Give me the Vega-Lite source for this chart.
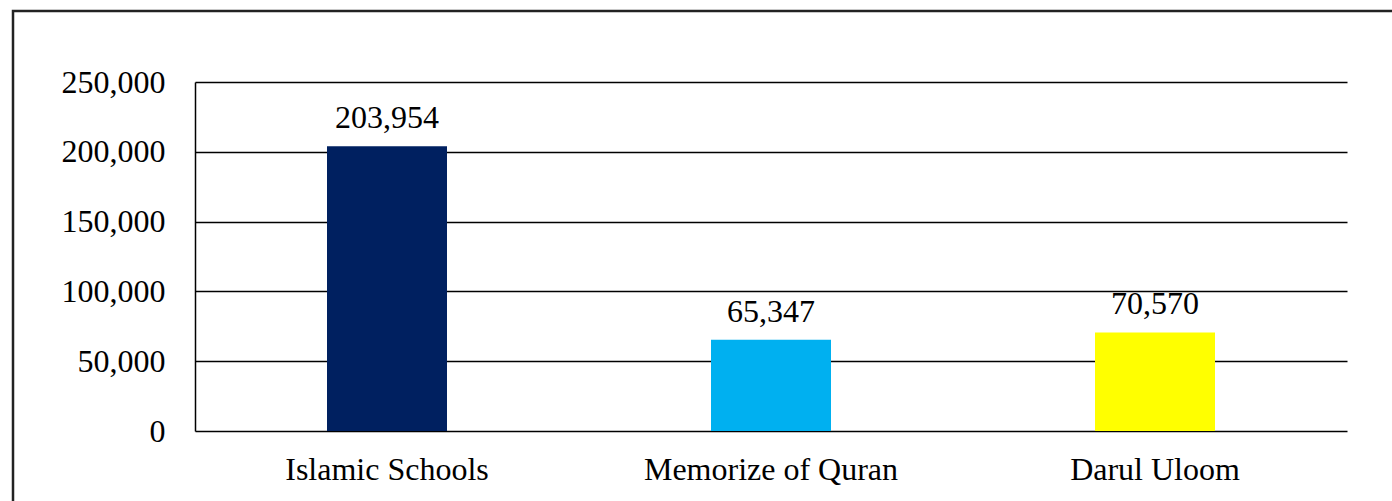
{
  "$schema": "https://vega.github.io/schema/vega-lite/v6.json",
  "width": 1400,
  "height": 500,
  "autosize": {"type": "none"},
  "padding": {"left": 13, "top": 11, "right": 0, "bottom": 0},
  "background": "white",
  "config": {
    "view": {"stroke": "#222222", "strokeWidth": 2.5},
    "font": "Liberation Serif, Times New Roman, serif",
    "axis": {"labelFont": "Liberation Serif, Times New Roman, serif", "labelFontSize": 32, "labelColor": "black", "labelLimit": 0}
  },
  "data": {
    "values": [
      {"Category": "Islamic Schools", "Value": 203954},
      {"Category": "Memorize of Quran", "Value": 65347},
      {"Category": "Darul Uloom", "Value": 70570}
    ]
  },
  "encoding": {
    "x": {
      "field": "Category",
      "type": "nominal",
      "sort": null,
      "scale": {"range": [182, 1334], "paddingInner": 0.6875, "paddingOuter": 0.34375},
      "axis": {
        "orient": "bottom",
        "offset": -80,
        "title": null,
        "domain": false,
        "ticks": false,
        "grid": false,
        "labelAngle": 0,
        "labelBaseline": "alphabetic",
        "labelPadding": 48,
        "labelLimit": 0
      }
    },
    "y": {
      "field": "Value",
      "type": "quantitative",
      "scale": {"domain": [0, 250000], "range": [420, 71], "nice": false, "zero": true},
      "axis": {
        "offset": -182,
        "title": null,
        "values": [0, 50000, 100000, 150000, 200000, 250000],
        "labelExpr": "format(datum.value, ',')",
        "ticks": false,
        "grid": true,
        "gridColor": "black",
        "gridWidth": 1.5,
        "gridOpacity": 1,
        "domain": true,
        "domainColor": "black",
        "domainWidth": 1.5,
        "labelPadding": 30
      }
    }
  },
  "layer": [
    {
      "mark": {"type": "bar"},
      "encoding": {
        "color": {
          "field": "Category",
          "type": "nominal",
          "scale": {
            "domain": ["Islamic Schools", "Memorize of Quran", "Darul Uloom"],
            "range": ["#002060", "#00B0F0", "#FFFF00"]
          },
          "legend": null
        }
      }
    },
    {
      "mark": {"type": "text", "baseline": "alphabetic", "dy": -18, "fontSize": 32, "font": "Liberation Serif, Times New Roman, serif", "color": "black"},
      "encoding": {
        "text": {"field": "Value", "type": "quantitative", "format": ","}
      }
    }
  ]
}
